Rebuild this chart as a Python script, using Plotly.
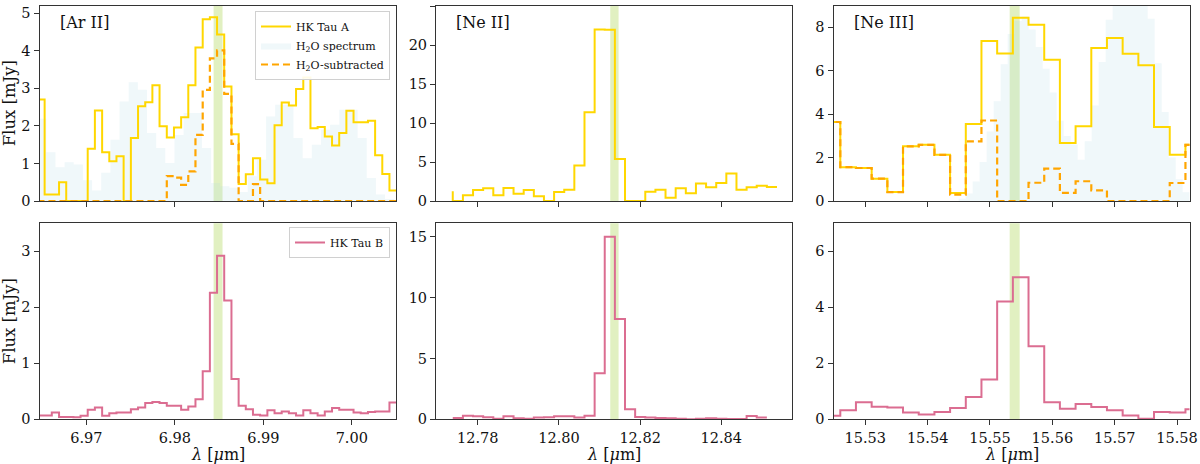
import plotly.graph_objects as go

# ---------------- data (wavelength in micron, flux in mJy) ----------------
# [Ar II] panel : step points (matplotlib "steps-pre" style)
ar_wave = [6.96447, 6.96528, 6.96609, 6.96691, 6.96772, 6.96853, 6.96934, 6.97015, 6.97096, 6.97178,
           6.97259, 6.97340, 6.97421, 6.97503, 6.97584, 6.97665, 6.97746, 6.97827, 6.97909, 6.97990,
           6.98071, 6.98152, 6.98233, 6.98315, 6.98396, 6.98477, 6.98558, 6.98640, 6.98721, 6.98802,
           6.98883, 6.98964, 6.99046, 6.99127, 6.99208, 6.99289, 6.99370, 6.99452, 6.99533, 6.99614,
           6.99695, 6.99777, 6.99858, 6.99939, 7.00020, 7.00101, 7.00183, 7.00264, 7.00345, 7.00426,
           7.00507]
ar_A = [2.70, 2.70, 0.17, 0.17, 0.50, 0.00, 0.00, 0.00, 1.39, 2.41, 1.30, 1.06, 1.19, 0.00, 1.68,
        2.52, 2.63, 3.08, 1.99, 1.69, 1.96, 2.23, 3.08, 4.09, 4.84, 4.89, 4.43, 3.05, 1.78, 0.45,
        0.71, 1.14, 0.57, 0.47, 2.02, 2.62, 2.54, 2.98, 3.29, 1.94, 1.97, 1.72, 1.48, 1.81, 2.40,
        2.10, 2.10, 2.14, 1.22, 0.72, 0.28]
ar_sub = [0.00, 0.00, 0.00, 0.00, 0.00, 0.00, 0.00, 0.00, 0.00, 0.00, 0.00, 0.00, 0.00, 0.00, 0.00,
          0.00, 0.00, 0.00, 0.00, 0.66, 0.62, 0.43, 0.79, 1.76, 2.96, 3.80, 4.01, 2.85, 1.52, 0.00,
          0.00, 0.45, 0.00, 0.00, 0.00, 0.00, 0.00, 0.00, 0.00, 0.00, 0.00, 0.00, 0.00, 0.00, 0.00,
          0.00, 0.00, 0.00, 0.00, 0.00, 0.00]
ar_B = [0.07, 0.07, 0.07, 0.12, 0.04, 0.04, 0.035, 0.065, 0.17, 0.21, 0.065, 0.11, 0.12, 0.12, 0.18,
        0.21, 0.29, 0.31, 0.29, 0.24, 0.24, 0.17, 0.23, 0.36, 0.86, 2.26, 2.92, 2.12, 0.72, 0.24,
        0.18, 0.08, 0.07, 0.16, 0.11, 0.14, 0.11, 0.07, 0.16, 0.11, 0.07, 0.14, 0.20, 0.17, 0.17,
        0.12, 0.11, 0.13, 0.14, 0.14, 0.30]
h2o_ar_wave = [6.96443, 6.96547, 6.96650, 6.96754, 6.96857, 6.96961, 6.97064, 6.97168, 6.97271,
               6.97375, 6.97478, 6.97582, 6.97685, 6.97789, 6.97892, 6.97996, 6.98099, 6.98203,
               6.98306, 6.98410, 6.98513, 6.98617, 6.98720, 6.98824, 6.98927, 6.99031, 6.99134,
               6.99238, 6.99341, 6.99445, 6.99548, 6.99652, 6.99755, 6.99859, 6.99962, 7.00066,
               7.00169, 7.00273, 7.00376, 7.00480, 7.00583]
h2o_ar = [0.00, 2.19, 1.30, 0.90, 1.03, 0.97, 0.55, 0.28, 0.75, 1.63, 2.65, 3.16, 2.96, 1.81, 1.41,
          1.01, 1.76, 2.34, 2.34, 1.41, 0.48, 0.39, 0.35, 0.24, 0.66, 1.10, 2.25, 2.56, 2.56, 1.68,
          1.14, 1.50, 1.90, 2.03, 2.43, 2.43, 1.68, 0.61, 0.17, 0.05, 0.00]

# [Ne II] panel
ne2_wave = [12.77383, 12.77633, 12.77883, 12.78132, 12.78382, 12.78632, 12.78881, 12.79131,
            12.79381, 12.79630, 12.79880, 12.80130, 12.80379, 12.80629, 12.80879, 12.81128,
            12.81378, 12.81628, 12.81877, 12.82127, 12.82377, 12.82626, 12.82876, 12.83126,
            12.83375, 12.83625, 12.83875, 12.84124, 12.84374, 12.84624, 12.84873, 12.85123,
            12.85373]
ne2_A = [1.24, 0.00, 0.73, 1.41, 1.62, 0.73, 1.66, 0.94, 1.41, 0.60, 0.00, 1.15, 1.45, 4.56, 11.39,
         22.00, 21.95, 5.38, 0.00, 0.00, 1.19, 1.45, 0.43, 1.62, 0.98, 2.26, 1.75, 2.30, 3.54, 1.45,
         1.75, 1.96, 1.79]
ne2_wave_B = ne2_wave[:32]
ne2_B = [0.10, 0.10, 0.30, 0.25, 0.16, 0.05, 0.25, 0.08, 0.05, 0.14, 0.16, 0.25, 0.25, 0.14, 0.30,
         3.78, 15.00, 8.24, 0.82, 0.19, 0.14, 0.11, 0.08, 0.05, 0.00, 0.05, 0.08, 0.05, 0.03, 0.03,
         0.27, 0.14]

# [Ne III] panel
ne3_wave = [15.52347, 15.52599, 15.52850, 15.53102, 15.53354, 15.53605, 15.53857, 15.54109,
            15.54360, 15.54612, 15.54863, 15.55115, 15.55367, 15.55618, 15.55870, 15.56121,
            15.56373, 15.56625, 15.56876, 15.57128, 15.57380, 15.57631, 15.57883, 15.58135,
            15.58386]
ne3_A = [3.64, 3.64, 1.56, 1.52, 1.03, 0.41, 2.52, 2.59, 2.13, 0.37, 3.55, 7.37, 6.80, 8.44, 8.12,
         6.51, 2.67, 3.44, 7.05, 7.51, 6.78, 6.26, 3.41, 2.13, 2.59]
ne3_sub = [3.64, 3.64, 1.56, 1.52, 1.03, 0.41, 2.52, 2.59, 2.13, 0.29, 2.75, 3.71, 0.00, 0.00, 0.84,
           1.49, 0.37, 0.91, 0.49, 0.00, 0.00, 0.00, 0.00, 0.83, 2.59]
ne3_B = [0.13, 0.13, 0.32, 0.61, 0.45, 0.42, 0.24, 0.17, 0.26, 0.40, 0.80, 1.42, 4.21, 5.07, 2.61,
         0.61, 0.38, 0.55, 0.44, 0.32, 0.14, 0.02, 0.26, 0.24, 0.36]
h2o_ne3_wave = [15.54497, 15.54610, 15.54722, 15.54834, 15.54947, 15.55059, 15.55171, 15.55283,
                15.55396, 15.55508, 15.55620, 15.55733, 15.55845, 15.55957, 15.56070, 15.56182,
                15.56294, 15.56406, 15.56519, 15.56631, 15.56743, 15.56856, 15.56968, 15.57080,
                15.57193, 15.57305, 15.57417, 15.57529, 15.57642, 15.57754, 15.57866, 15.57979,
                15.58091, 15.58203]
h2o_ne3 = [0.00, 0.10, 0.35, 0.90, 1.80, 3.20, 4.60, 6.30, 7.70, 8.30, 8.50, 7.90, 7.10, 6.10, 5.00,
           3.70, 3.00, 2.60, 1.90, 2.75, 4.40, 6.40, 8.35, 9.50, 10.30, 10.80, 10.50, 9.60, 8.40,
           6.35, 4.10, 2.00, 1.00, 0.40]

# line windows (shaded bands)
band_lo = [6.98438, 12.81264, 15.55316]
band_hi = [6.98539, 12.81469, 15.55476]
line_names = ["[Ar II]", "[Ne II]", "[Ne III]"]
x_ticks = [[6.97, 6.98, 6.99, 7.00],
           [12.78, 12.80, 12.82, 12.84],
           [15.53, 15.54, 15.55, 15.56, 15.57, 15.58]]

# ---------------- styling ----------------
FONT = "DejaVu Serif"
GOLD = "#FFD700"
ORANGE = "#FFA500"
PINK = "#DB6D91"
BLUE = "rgba(173,216,230,0.19)"
BAND = "rgba(154,205,50,0.30)"
W, H = 1200, 464
cols = [(39.5, 396.0), (436.0, 791.5), (833.5, 1189.5)]
rows = [(5.7, 201.0), (223.3, 419.3)]
xranges = [(6.9647, 7.0050), (12.7697, 12.8573), (15.5249, 15.5820)]
ytop = [[5.2, 25.05, 9.0], [3.5, 16.1, 7.0]]
ydt = [[1, 5, 2], [1, 5, 2]]
TICK_SIZE = 14.5

fig = go.Figure()


def xa(n):
    return "x" if n == 1 else f"x{n}"


def ya(n):
    return "y" if n == 1 else f"y{n}"


# top row: HK Tau A
fig.add_trace(go.Scatter(x=h2o_ar_wave, y=h2o_ar, mode="lines", line=dict(width=0, shape="vh"),
                         fill="tozeroy", fillcolor=BLUE, name="H<sub>2</sub>O spectrum",
                         legend="legend", legendrank=2, xaxis=xa(1), yaxis=ya(1), hoverinfo="skip"))
fig.add_trace(go.Scatter(x=ar_wave, y=ar_A, mode="lines", line=dict(color=GOLD, width=2, shape="vh"),
                         name="HK Tau A", legend="legend", legendrank=1, xaxis=xa(1), yaxis=ya(1)))
fig.add_trace(go.Scatter(x=ar_wave, y=ar_sub, mode="lines",
                         line=dict(color=ORANGE, width=2.2, shape="vh", dash="7px,4px"),
                         name="H<sub>2</sub>O-subtracted", legend="legend", legendrank=3,
                         xaxis=xa(1), yaxis=ya(1)))

fig.add_trace(go.Scatter(x=ne2_wave, y=ne2_A, mode="lines", line=dict(color=GOLD, width=2, shape="vh"),
                         showlegend=False, xaxis=xa(2), yaxis=ya(2)))

fig.add_trace(go.Scatter(x=h2o_ne3_wave, y=h2o_ne3, mode="lines", line=dict(width=0, shape="vh"),
                         fill="tozeroy", fillcolor=BLUE, showlegend=False, xaxis=xa(3), yaxis=ya(3),
                         hoverinfo="skip"))
fig.add_trace(go.Scatter(x=ne3_wave, y=ne3_A, mode="lines", line=dict(color=GOLD, width=2, shape="vh"),
                         showlegend=False, xaxis=xa(3), yaxis=ya(3)))
fig.add_trace(go.Scatter(x=ne3_wave, y=ne3_sub, mode="lines",
                         line=dict(color=ORANGE, width=2.2, shape="vh", dash="7px,4px"),
                         showlegend=False, xaxis=xa(3), yaxis=ya(3)))

# bottom row: HK Tau B
fig.add_trace(go.Scatter(x=ar_wave, y=ar_B, mode="lines", line=dict(color=PINK, width=2, shape="vh"),
                         name="HK Tau B", legend="legend2", xaxis=xa(4), yaxis=ya(4)))
fig.add_trace(go.Scatter(x=ne2_wave_B, y=ne2_B, mode="lines", line=dict(color=PINK, width=2, shape="vh"),
                         showlegend=False, xaxis=xa(5), yaxis=ya(5)))
fig.add_trace(go.Scatter(x=ne3_wave, y=ne3_B, mode="lines", line=dict(color=PINK, width=2, shape="vh"),
                         showlegend=False, xaxis=xa(6), yaxis=ya(6)))

layout = dict(
    width=W, height=H, margin=dict(l=0, r=0, t=0, b=0),
    paper_bgcolor="white", plot_bgcolor="white",
    font=dict(family=FONT, size=TICK_SIZE, color="#111"),
    shapes=[], annotations=[],
    legend=dict(x=390 / W, y=1 - 11 / H, xanchor="right", yanchor="top",
                bgcolor="rgba(255,255,255,0.9)", bordercolor="#d0d0d0", borderwidth=1,
                font=dict(family=FONT, size=11, color="#111"), traceorder="normal",
                tracegroupgap=0, itemwidth=30),
    legend2=dict(x=390 / W, y=1 - 227 / H, xanchor="right", yanchor="top",
                 bgcolor="rgba(255,255,255,0.9)", bordercolor="#d0d0d0", borderwidth=1,
                 font=dict(family=FONT, size=11, color="#111"), itemwidth=30),
)

for i in range(6):
    r, c = divmod(i, 3)
    n = i + 1
    key = "" if n == 1 else str(n)
    layout["xaxis" + key] = dict(
        domain=[cols[c][0] / W, cols[c][1] / W], anchor=ya(n), range=list(xranges[c]),
        tickvals=x_ticks[c], tickformat=".2f", showticklabels=(r == 1),
        ticks="outside", ticklen=5, tickwidth=1, tickcolor="#333",
        showline=True, mirror=True, linecolor="#333", linewidth=1,
        showgrid=False, zeroline=False, automargin=False,
        tickfont=dict(family=FONT, size=TICK_SIZE, color="#111"))
    layout["yaxis" + key] = dict(
        domain=[1 - rows[r][1] / H, 1 - rows[r][0] / H], anchor=xa(n),
        range=[0, ytop[r][c]], tick0=0, dtick=ydt[r][c],
        ticks="outside", ticklen=5, tickwidth=1, tickcolor="#333",
        showline=True, mirror=True, linecolor="#333", linewidth=1,
        showgrid=False, zeroline=False, automargin=False,
        tickfont=dict(family=FONT, size=TICK_SIZE, color="#111"))
    layout["shapes"].append(dict(type="rect", xref=xa(n), yref=ya(n) + " domain",
                                 x0=band_lo[c], x1=band_hi[c], y0=0, y1=1,
                                 fillcolor=BAND, line=dict(width=0), layer="below"))

# panel labels and x-axis titles
for c in range(3):
    layout["annotations"].append(dict(
        text=line_names[c], xref="paper", yref="paper",
        x=(cols[c][0] + 18.5) / W, y=1 - 23 / H, xanchor="left", yanchor="middle",
        showarrow=False, font=dict(family=FONT, size=16, color="#111")))
    layout["annotations"].append(dict(
        text="<i>λ</i> [<i>μ</i>m]", xref="paper", yref="paper",
        x=(cols[c][0] + cols[c][1]) / 2 / W, y=0.0, xanchor="center", yanchor="bottom",
        yshift=-2, showarrow=False, font=dict(family=FONT, size=16, color="#111")))

# y-axis titles
for r in range(2):
    layout["annotations"].append(dict(
        text="Flux [mJy]", xref="paper", yref="paper", textangle=-90,
        x=9 / W, y=1 - (rows[r][0] + rows[r][1]) / 2 / H, xanchor="center", yanchor="middle",
        showarrow=False, font=dict(family=FONT, size=16.5, color="#111")))

fig.update_layout(**layout)
fig.write_html("out.html")
